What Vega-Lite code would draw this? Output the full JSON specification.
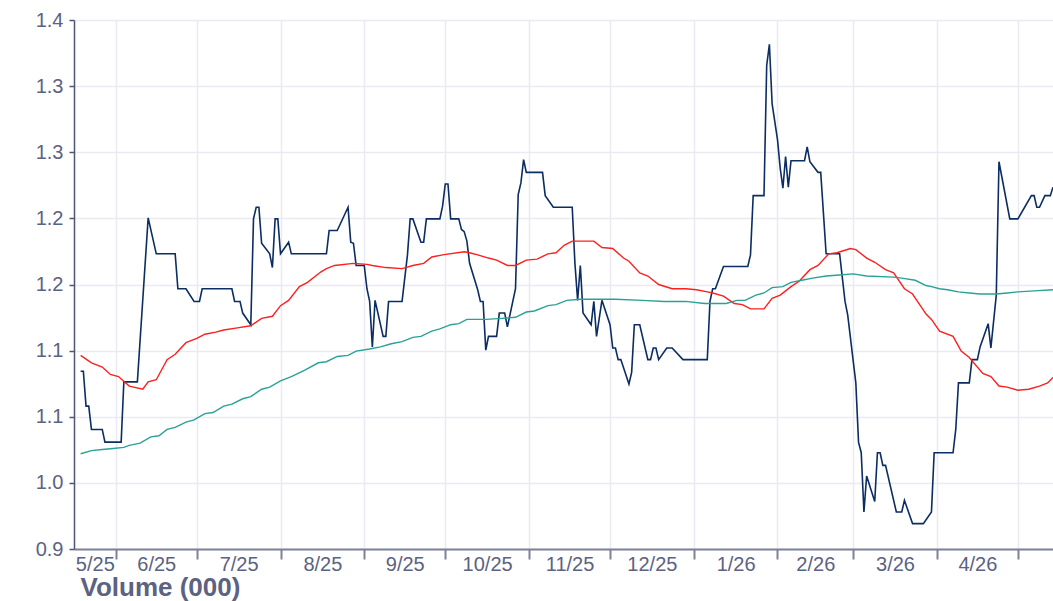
{
  "$schema": "https://vega.github.io/schema/vega-lite/v6.json",
  "width": 979,
  "height": 529,
  "autosize": {"type": "none"},
  "padding": {"left": 74, "top": 20, "right": 0, "bottom": 52},
  "background": "white",
  "config": {
    "view": {"stroke": null},
    "axis": {"labelFont": "Liberation Sans", "labelFontSize": 20, "labelColor": "#5b6282", "titleFont": "Liberation Sans", "gridColor": "#eaebf2", "gridWidth": 1.5}
  },
  "data": {"values": [
    {"d":"2025-05-19","s":"Price","v":1.068},{"d":"2025-05-20","s":"Price","v":1.068},{"d":"2025-05-21","s":"Price","v":1.035},{"d":"2025-05-22","s":"Price","v":1.035},
    {"d":"2025-05-23","s":"Price","v":1.013},{"d":"2025-05-27","s":"Price","v":1.013},{"d":"2025-05-28","s":"Price","v":1.001},{"d":"2025-06-03","s":"Price","v":1.001},
    {"d":"2025-06-04","s":"Price","v":1.058},{"d":"2025-06-09","s":"Price","v":1.058},{"d":"2025-06-13","s":"Price","v":1.213},{"d":"2025-06-16","s":"Price","v":1.179},
    {"d":"2025-06-23","s":"Price","v":1.179},{"d":"2025-06-24","s":"Price","v":1.146},{"d":"2025-06-27","s":"Price","v":1.146},{"d":"2025-06-30","s":"Price","v":1.134},
    {"d":"2025-07-02","s":"Price","v":1.134},{"d":"2025-07-03","s":"Price","v":1.146},{"d":"2025-07-14","s":"Price","v":1.146},{"d":"2025-07-15","s":"Price","v":1.134},
    {"d":"2025-07-17","s":"Price","v":1.134},{"d":"2025-07-18","s":"Price","v":1.123},{"d":"2025-07-21","s":"Price","v":1.112},{"d":"2025-07-22","s":"Price","v":1.212},
    {"d":"2025-07-23","s":"Price","v":1.223},{"d":"2025-07-24","s":"Price","v":1.223},{"d":"2025-07-25","s":"Price","v":1.189},{"d":"2025-07-28","s":"Price","v":1.179},
    {"d":"2025-07-29","s":"Price","v":1.166},{"d":"2025-07-30","s":"Price","v":1.212},{"d":"2025-07-31","s":"Price","v":1.212},{"d":"2025-08-01","s":"Price","v":1.179},
    {"d":"2025-08-04","s":"Price","v":1.190},{"d":"2025-08-05","s":"Price","v":1.179},{"d":"2025-08-18","s":"Price","v":1.179},{"d":"2025-08-19","s":"Price","v":1.201},
    {"d":"2025-08-22","s":"Price","v":1.201},{"d":"2025-08-26","s":"Price","v":1.223},{"d":"2025-08-27","s":"Price","v":1.190},{"d":"2025-08-28","s":"Price","v":1.189},
    {"d":"2025-08-29","s":"Price","v":1.168},{"d":"2025-09-01","s":"Price","v":1.168},{"d":"2025-09-02","s":"Price","v":1.146},{"d":"2025-09-03","s":"Price","v":1.134},
    {"d":"2025-09-04","s":"Price","v":1.091},{"d":"2025-09-05","s":"Price","v":1.135},{"d":"2025-09-08","s":"Price","v":1.101},{"d":"2025-09-09","s":"Price","v":1.101},
    {"d":"2025-09-10","s":"Price","v":1.134},{"d":"2025-09-15","s":"Price","v":1.134},{"d":"2025-09-17","s":"Price","v":1.178},{"d":"2025-09-18","s":"Price","v":1.212},
    {"d":"2025-09-19","s":"Price","v":1.212},{"d":"2025-09-22","s":"Price","v":1.190},{"d":"2025-09-23","s":"Price","v":1.190},{"d":"2025-09-24","s":"Price","v":1.212},
    {"d":"2025-09-29","s":"Price","v":1.212},{"d":"2025-09-30","s":"Price","v":1.224},{"d":"2025-10-01","s":"Price","v":1.245},{"d":"2025-10-02","s":"Price","v":1.245},
    {"d":"2025-10-03","s":"Price","v":1.212},{"d":"2025-10-06","s":"Price","v":1.212},{"d":"2025-10-07","s":"Price","v":1.202},{"d":"2025-10-08","s":"Price","v":1.200},
    {"d":"2025-10-09","s":"Price","v":1.191},{"d":"2025-10-10","s":"Price","v":1.170},{"d":"2025-10-13","s":"Price","v":1.145},{"d":"2025-10-14","s":"Price","v":1.134},
    {"d":"2025-10-15","s":"Price","v":1.134},{"d":"2025-10-16","s":"Price","v":1.088},{"d":"2025-10-17","s":"Price","v":1.101},{"d":"2025-10-20","s":"Price","v":1.101},
    {"d":"2025-10-21","s":"Price","v":1.123},{"d":"2025-10-23","s":"Price","v":1.123},{"d":"2025-10-24","s":"Price","v":1.110},{"d":"2025-10-27","s":"Price","v":1.146},
    {"d":"2025-10-28","s":"Price","v":1.235},{"d":"2025-10-29","s":"Price","v":1.246},{"d":"2025-10-30","s":"Price","v":1.268},{"d":"2025-10-31","s":"Price","v":1.256},
    {"d":"2025-11-06","s":"Price","v":1.256},{"d":"2025-11-07","s":"Price","v":1.234},{"d":"2025-11-10","s":"Price","v":1.223},{"d":"2025-11-17","s":"Price","v":1.223},
    {"d":"2025-11-18","s":"Price","v":1.170},{"d":"2025-11-19","s":"Price","v":1.135},{"d":"2025-11-20","s":"Price","v":1.168},{"d":"2025-11-21","s":"Price","v":1.123},
    {"d":"2025-11-24","s":"Price","v":1.112},{"d":"2025-11-25","s":"Price","v":1.134},{"d":"2025-11-26","s":"Price","v":1.101},{"d":"2025-11-28","s":"Price","v":1.135},
    {"d":"2025-12-01","s":"Price","v":1.112},{"d":"2025-12-02","s":"Price","v":1.090},{"d":"2025-12-03","s":"Price","v":1.090},{"d":"2025-12-04","s":"Price","v":1.079},
    {"d":"2025-12-05","s":"Price","v":1.079},{"d":"2025-12-08","s":"Price","v":1.056},{"d":"2025-12-09","s":"Price","v":1.067},{"d":"2025-12-10","s":"Price","v":1.112},
    {"d":"2025-12-12","s":"Price","v":1.112},{"d":"2025-12-15","s":"Price","v":1.079},{"d":"2025-12-16","s":"Price","v":1.079},{"d":"2025-12-17","s":"Price","v":1.090},
    {"d":"2025-12-18","s":"Price","v":1.090},{"d":"2025-12-19","s":"Price","v":1.079},{"d":"2025-12-22","s":"Price","v":1.090},{"d":"2025-12-24","s":"Price","v":1.090},
    {"d":"2025-12-28","s":"Price","v":1.079},{"d":"2026-01-06","s":"Price","v":1.079},{"d":"2026-01-07","s":"Price","v":1.134},{"d":"2026-01-08","s":"Price","v":1.146},
    {"d":"2026-01-09","s":"Price","v":1.146},{"d":"2026-01-12","s":"Price","v":1.167},{"d":"2026-01-21","s":"Price","v":1.167},{"d":"2026-01-22","s":"Price","v":1.178},
    {"d":"2026-01-23","s":"Price","v":1.234},{"d":"2026-01-27","s":"Price","v":1.234},{"d":"2026-01-28","s":"Price","v":1.357},{"d":"2026-01-29","s":"Price","v":1.377},
    {"d":"2026-01-30","s":"Price","v":1.321},{"d":"2026-02-01","s":"Price","v":1.287},{"d":"2026-02-02","s":"Price","v":1.260},{"d":"2026-02-03","s":"Price","v":1.241},
    {"d":"2026-02-04","s":"Price","v":1.271},{"d":"2026-02-05","s":"Price","v":1.242},{"d":"2026-02-06","s":"Price","v":1.267},{"d":"2026-02-11","s":"Price","v":1.267},
    {"d":"2026-02-12","s":"Price","v":1.280},{"d":"2026-02-13","s":"Price","v":1.266},{"d":"2026-02-16","s":"Price","v":1.256},{"d":"2026-02-17","s":"Price","v":1.256},
    {"d":"2026-02-19","s":"Price","v":1.179},{"d":"2026-02-24","s":"Price","v":1.179},{"d":"2026-02-26","s":"Price","v":1.134},{"d":"2026-02-27","s":"Price","v":1.121},
    {"d":"2026-03-02","s":"Price","v":1.057},{"d":"2026-03-03","s":"Price","v":1.001},{"d":"2026-03-04","s":"Price","v":0.991},{"d":"2026-03-05","s":"Price","v":0.935},
    {"d":"2026-03-06","s":"Price","v":0.969},{"d":"2026-03-09","s":"Price","v":0.945},{"d":"2026-03-10","s":"Price","v":0.991},{"d":"2026-03-11","s":"Price","v":0.991},
    {"d":"2026-03-12","s":"Price","v":0.979},{"d":"2026-03-13","s":"Price","v":0.979},{"d":"2026-03-17","s":"Price","v":0.935},{"d":"2026-03-19","s":"Price","v":0.935},
    {"d":"2026-03-20","s":"Price","v":0.946},{"d":"2026-03-23","s":"Price","v":0.924},{"d":"2026-03-27","s":"Price","v":0.924},{"d":"2026-03-30","s":"Price","v":0.935},
    {"d":"2026-03-31","s":"Price","v":0.991},{"d":"2026-04-07","s":"Price","v":0.991},{"d":"2026-04-08","s":"Price","v":1.013},{"d":"2026-04-09","s":"Price","v":1.057},
    {"d":"2026-04-13","s":"Price","v":1.057},{"d":"2026-04-14","s":"Price","v":1.079},{"d":"2026-04-16","s":"Price","v":1.079},{"d":"2026-04-17","s":"Price","v":1.091},
    {"d":"2026-04-20","s":"Price","v":1.113},{"d":"2026-04-21","s":"Price","v":1.090},{"d":"2026-04-23","s":"Price","v":1.140},{"d":"2026-04-24","s":"Price","v":1.266},
    {"d":"2026-04-28","s":"Price","v":1.212},{"d":"2026-05-01","s":"Price","v":1.212},{"d":"2026-05-06","s":"Price","v":1.234},{"d":"2026-05-07","s":"Price","v":1.234},
    {"d":"2026-05-08","s":"Price","v":1.223},{"d":"2026-05-09","s":"Price","v":1.223},{"d":"2026-05-11","s":"Price","v":1.234},{"d":"2026-05-13","s":"Price","v":1.234},
    {"d":"2026-05-14","s":"Price","v":1.242},

    {"d":"2025-05-19","s":"MA50","v":1.083},{"d":"2025-05-23","s":"MA50","v":1.076},{"d":"2025-05-27","s":"MA50","v":1.072},{"d":"2025-05-30","s":"MA50","v":1.065},
    {"d":"2025-06-02","s":"MA50","v":1.063},{"d":"2025-06-06","s":"MA50","v":1.054},{"d":"2025-06-11","s":"MA50","v":1.051},{"d":"2025-06-13","s":"MA50","v":1.058},
    {"d":"2025-06-16","s":"MA50","v":1.060},{"d":"2025-06-20","s":"MA50","v":1.079},{"d":"2025-06-23","s":"MA50","v":1.084},{"d":"2025-06-27","s":"MA50","v":1.095},
    {"d":"2025-07-01","s":"MA50","v":1.099},{"d":"2025-07-04","s":"MA50","v":1.103},{"d":"2025-07-08","s":"MA50","v":1.105},{"d":"2025-07-11","s":"MA50","v":1.107},
    {"d":"2025-07-16","s":"MA50","v":1.109},{"d":"2025-07-21","s":"MA50","v":1.111},{"d":"2025-07-25","s":"MA50","v":1.118},{"d":"2025-07-29","s":"MA50","v":1.120},
    {"d":"2025-08-01","s":"MA50","v":1.130},{"d":"2025-08-04","s":"MA50","v":1.135},{"d":"2025-08-08","s":"MA50","v":1.148},{"d":"2025-08-11","s":"MA50","v":1.152},
    {"d":"2025-08-16","s":"MA50","v":1.162},{"d":"2025-08-18","s":"MA50","v":1.165},{"d":"2025-08-21","s":"MA50","v":1.168},{"d":"2025-08-28","s":"MA50","v":1.170},
    {"d":"2025-09-02","s":"MA50","v":1.169},{"d":"2025-09-04","s":"MA50","v":1.168},{"d":"2025-09-09","s":"MA50","v":1.166},{"d":"2025-09-15","s":"MA50","v":1.165},
    {"d":"2025-09-19","s":"MA50","v":1.168},{"d":"2025-09-23","s":"MA50","v":1.170},{"d":"2025-09-26","s":"MA50","v":1.176},{"d":"2025-09-30","s":"MA50","v":1.178},
    {"d":"2025-10-08","s":"MA50","v":1.181},{"d":"2025-10-10","s":"MA50","v":1.180},{"d":"2025-10-13","s":"MA50","v":1.178},{"d":"2025-10-17","s":"MA50","v":1.175},
    {"d":"2025-10-20","s":"MA50","v":1.173},{"d":"2025-10-24","s":"MA50","v":1.168},{"d":"2025-10-27","s":"MA50","v":1.168},{"d":"2025-10-31","s":"MA50","v":1.173},
    {"d":"2025-11-04","s":"MA50","v":1.174},{"d":"2025-11-08","s":"MA50","v":1.179},{"d":"2025-11-11","s":"MA50","v":1.180},{"d":"2025-11-14","s":"MA50","v":1.187},
    {"d":"2025-11-17","s":"MA50","v":1.191},{"d":"2025-11-20","s":"MA50","v":1.191},{"d":"2025-11-25","s":"MA50","v":1.191},{"d":"2025-11-28","s":"MA50","v":1.185},
    {"d":"2025-12-02","s":"MA50","v":1.184},{"d":"2025-12-06","s":"MA50","v":1.175},{"d":"2025-12-08","s":"MA50","v":1.172},{"d":"2025-12-12","s":"MA50","v":1.161},
    {"d":"2025-12-15","s":"MA50","v":1.158},{"d":"2025-12-19","s":"MA50","v":1.150},{"d":"2025-12-24","s":"MA50","v":1.146},{"d":"2025-12-29","s":"MA50","v":1.146},
    {"d":"2026-01-02","s":"MA50","v":1.145},{"d":"2026-01-06","s":"MA50","v":1.143},{"d":"2026-01-08","s":"MA50","v":1.142},{"d":"2026-01-12","s":"MA50","v":1.139},
    {"d":"2026-01-16","s":"MA50","v":1.132},{"d":"2026-01-19","s":"MA50","v":1.131},{"d":"2026-01-22","s":"MA50","v":1.127},{"d":"2026-01-27","s":"MA50","v":1.127},
    {"d":"2026-01-30","s":"MA50","v":1.137},{"d":"2026-02-02","s":"MA50","v":1.140},{"d":"2026-02-06","s":"MA50","v":1.148},{"d":"2026-02-09","s":"MA50","v":1.153},
    {"d":"2026-02-13","s":"MA50","v":1.164},{"d":"2026-02-16","s":"MA50","v":1.168},{"d":"2026-02-20","s":"MA50","v":1.179},{"d":"2026-02-23","s":"MA50","v":1.180},
    {"d":"2026-02-28","s":"MA50","v":1.184},{"d":"2026-03-02","s":"MA50","v":1.183},{"d":"2026-03-06","s":"MA50","v":1.175},{"d":"2026-03-09","s":"MA50","v":1.171},
    {"d":"2026-03-13","s":"MA50","v":1.164},{"d":"2026-03-16","s":"MA50","v":1.161},{"d":"2026-03-20","s":"MA50","v":1.146},{"d":"2026-03-23","s":"MA50","v":1.141},
    {"d":"2026-03-28","s":"MA50","v":1.122},{"d":"2026-03-30","s":"MA50","v":1.117},{"d":"2026-04-02","s":"MA50","v":1.106},{"d":"2026-04-07","s":"MA50","v":1.101},
    {"d":"2026-04-10","s":"MA50","v":1.087},{"d":"2026-04-13","s":"MA50","v":1.081},{"d":"2026-04-18","s":"MA50","v":1.066},{"d":"2026-04-21","s":"MA50","v":1.063},
    {"d":"2026-04-24","s":"MA50","v":1.054},{"d":"2026-04-27","s":"MA50","v":1.053},{"d":"2026-05-01","s":"MA50","v":1.050},{"d":"2026-05-05","s":"MA50","v":1.051},
    {"d":"2026-05-09","s":"MA50","v":1.054},{"d":"2026-05-12","s":"MA50","v":1.057},{"d":"2026-05-14","s":"MA50","v":1.062},

    {"d":"2025-05-19","s":"MA200","v":0.990},{"d":"2025-05-23","s":"MA200","v":0.993},{"d":"2025-05-27","s":"MA200","v":0.994},{"d":"2025-05-31","s":"MA200","v":0.995},
    {"d":"2025-06-04","s":"MA200","v":0.996},{"d":"2025-06-06","s":"MA200","v":0.998},{"d":"2025-06-10","s":"MA200","v":1.000},{"d":"2025-06-14","s":"MA200","v":1.006},
    {"d":"2025-06-17","s":"MA200","v":1.007},{"d":"2025-06-20","s":"MA200","v":1.013},{"d":"2025-06-23","s":"MA200","v":1.015},{"d":"2025-06-27","s":"MA200","v":1.020},
    {"d":"2025-06-30","s":"MA200","v":1.022},{"d":"2025-07-04","s":"MA200","v":1.028},{"d":"2025-07-07","s":"MA200","v":1.029},{"d":"2025-07-11","s":"MA200","v":1.035},
    {"d":"2025-07-14","s":"MA200","v":1.037},{"d":"2025-07-18","s":"MA200","v":1.042},{"d":"2025-07-21","s":"MA200","v":1.044},{"d":"2025-07-25","s":"MA200","v":1.051},
    {"d":"2025-07-28","s":"MA200","v":1.053},{"d":"2025-08-01","s":"MA200","v":1.059},{"d":"2025-08-05","s":"MA200","v":1.063},{"d":"2025-08-10","s":"MA200","v":1.069},
    {"d":"2025-08-15","s":"MA200","v":1.076},{"d":"2025-08-18","s":"MA200","v":1.077},{"d":"2025-08-22","s":"MA200","v":1.082},{"d":"2025-08-26","s":"MA200","v":1.083},
    {"d":"2025-08-29","s":"MA200","v":1.087},{"d":"2025-09-03","s":"MA200","v":1.089},{"d":"2025-09-07","s":"MA200","v":1.091},{"d":"2025-09-11","s":"MA200","v":1.094},
    {"d":"2025-09-15","s":"MA200","v":1.096},{"d":"2025-09-19","s":"MA200","v":1.100},{"d":"2025-09-22","s":"MA200","v":1.101},{"d":"2025-09-26","s":"MA200","v":1.106},
    {"d":"2025-09-29","s":"MA200","v":1.108},{"d":"2025-10-03","s":"MA200","v":1.112},{"d":"2025-10-06","s":"MA200","v":1.113},{"d":"2025-10-09","s":"MA200","v":1.117},
    {"d":"2025-10-16","s":"MA200","v":1.117},{"d":"2025-10-22","s":"MA200","v":1.118},{"d":"2025-10-27","s":"MA200","v":1.119},{"d":"2025-10-31","s":"MA200","v":1.124},
    {"d":"2025-11-03","s":"MA200","v":1.125},{"d":"2025-11-08","s":"MA200","v":1.130},{"d":"2025-11-11","s":"MA200","v":1.131},{"d":"2025-11-15","s":"MA200","v":1.135},
    {"d":"2025-11-20","s":"MA200","v":1.136},{"d":"2025-11-28","s":"MA200","v":1.136},{"d":"2025-12-03","s":"MA200","v":1.136},{"d":"2025-12-13","s":"MA200","v":1.135},
    {"d":"2025-12-21","s":"MA200","v":1.134},{"d":"2025-12-29","s":"MA200","v":1.134},{"d":"2026-01-05","s":"MA200","v":1.132},{"d":"2026-01-09","s":"MA200","v":1.132},
    {"d":"2026-01-13","s":"MA200","v":1.132},{"d":"2026-01-17","s":"MA200","v":1.135},{"d":"2026-01-20","s":"MA200","v":1.135},{"d":"2026-01-24","s":"MA200","v":1.140},
    {"d":"2026-01-27","s":"MA200","v":1.142},{"d":"2026-01-30","s":"MA200","v":1.147},{"d":"2026-02-03","s":"MA200","v":1.148},{"d":"2026-02-06","s":"MA200","v":1.152},
    {"d":"2026-02-10","s":"MA200","v":1.154},{"d":"2026-02-14","s":"MA200","v":1.156},{"d":"2026-02-19","s":"MA200","v":1.158},{"d":"2026-02-24","s":"MA200","v":1.159},
    {"d":"2026-03-01","s":"MA200","v":1.160},{"d":"2026-03-06","s":"MA200","v":1.158},{"d":"2026-03-16","s":"MA200","v":1.157},{"d":"2026-03-19","s":"MA200","v":1.156},
    {"d":"2026-03-24","s":"MA200","v":1.154},{"d":"2026-03-28","s":"MA200","v":1.149},{"d":"2026-03-30","s":"MA200","v":1.148},{"d":"2026-04-02","s":"MA200","v":1.146},
    {"d":"2026-04-05","s":"MA200","v":1.145},{"d":"2026-04-09","s":"MA200","v":1.143},{"d":"2026-04-13","s":"MA200","v":1.142},{"d":"2026-04-17","s":"MA200","v":1.141},
    {"d":"2026-04-23","s":"MA200","v":1.141},{"d":"2026-04-27","s":"MA200","v":1.142},{"d":"2026-05-01","s":"MA200","v":1.143},{"d":"2026-05-07","s":"MA200","v":1.144},
    {"d":"2026-05-14","s":"MA200","v":1.145}
  ]},
  "layer": [
    {
      "transform": [{"filter": "datum.s === 'Price'"}],
      "mark": {"type": "line", "strokeWidth": 1.6, "clip": true},
      "encoding": {
        "x": {"field": "d", "type": "temporal",
          "scale": {"type": "utc", "domain": [{"year": 2025, "month": 5, "date": 16, "hours": 13, "utc": true}, {"year": 2026, "month": 5, "date": 14, "utc": true}]},
          "axis": {"orient": "bottom", "title": null, "labels": false, "grid": true, "ticks": true, "tickSize": 10, "tickWidth": 2, "tickColor": "#7d8298", "domainColor": "#7d8298", "domainWidth": 2,
            "values": [
              {"year": 2025, "month": 6, "date": 1, "utc": true}, {"year": 2025, "month": 7, "date": 1, "utc": true}, {"year": 2025, "month": 8, "date": 1, "utc": true},
              {"year": 2025, "month": 9, "date": 1, "utc": true}, {"year": 2025, "month": 10, "date": 1, "utc": true}, {"year": 2025, "month": 11, "date": 1, "utc": true},
              {"year": 2025, "month": 12, "date": 1, "utc": true}, {"year": 2026, "month": 1, "date": 1, "utc": true}, {"year": 2026, "month": 2, "date": 1, "utc": true},
              {"year": 2026, "month": 3, "date": 1, "utc": true}, {"year": 2026, "month": 4, "date": 1, "utc": true}, {"year": 2026, "month": 5, "date": 1, "utc": true}
            ]}},
        "y": {"field": "v", "type": "quantitative",
          "scale": {"domain": [0.9, 1.4], "nice": false, "zero": false},
          "axis": {"title": null, "grid": true, "values": [0.9, 0.9625, 1.025, 1.0875, 1.15, 1.2125, 1.275, 1.3375, 1.4],
            "labelExpr": "['0.9','1.0','1.1','1.1','1.2','1.2','1.3','1.3','1.4'][round((datum.value-0.9)/0.0625)]",
            "domainColor": "#4f5673", "domainWidth": 1.5, "tickColor": "#4f5673", "tickWidth": 1.5, "tickSize": 5, "labelPadding": 6}},
        "color": {"field": "s", "type": "nominal", "legend": null,
          "scale": {"domain": ["Price", "MA50", "MA200"], "range": ["#0b2d63", "#ff1f1f", "#2aa196"]}}
      }
    },
    {
      "transform": [{"filter": "datum.s !== 'Price'"}],
      "mark": {"type": "line", "strokeWidth": 1.4, "clip": true},
      "encoding": {
        "x": {"field": "d", "type": "temporal",
          "scale": {"type": "utc", "domain": [{"year": 2025, "month": 5, "date": 16, "hours": 13, "utc": true}, {"year": 2026, "month": 5, "date": 14, "utc": true}]},
          "axis": {"orient": "bottom", "grid": false, "ticks": false, "tickSize": 0, "domain": false, "format": "%-m/%y", "labelPadding": 5, "labelOverlap": false, "labelFlush": false,
            "title": "Volume (000)", "titleFontSize": 26, "titleFontWeight": "bold", "titleColor": "#5b6282", "titleAnchor": "start", "titleAlign": "left", "titleBaseline": "alphabetic", "titleX": 6, "titleY": 46,
            "values": [
              {"year": 2025, "month": 5, "date": 24, "hours": 6, "utc": true}, {"year": 2025, "month": 6, "date": 16, "utc": true}, {"year": 2025, "month": 7, "date": 16, "hours": 12, "utc": true},
              {"year": 2025, "month": 8, "date": 16, "hours": 12, "utc": true}, {"year": 2025, "month": 9, "date": 16, "utc": true}, {"year": 2025, "month": 10, "date": 16, "hours": 12, "utc": true},
              {"year": 2025, "month": 11, "date": 16, "utc": true}, {"year": 2025, "month": 12, "date": 16, "hours": 12, "utc": true}, {"year": 2026, "month": 1, "date": 16, "hours": 12, "utc": true},
              {"year": 2026, "month": 2, "date": 15, "utc": true}, {"year": 2026, "month": 3, "date": 16, "hours": 12, "utc": true}, {"year": 2026, "month": 4, "date": 16, "utc": true}
            ]}},
        "y": {"field": "v", "type": "quantitative",
          "scale": {"domain": [0.9, 1.4], "nice": false, "zero": false},
          "axis": {"title": null, "grid": true, "values": [0.9, 0.9625, 1.025, 1.0875, 1.15, 1.2125, 1.275, 1.3375, 1.4],
            "labelExpr": "['0.9','1.0','1.1','1.1','1.2','1.2','1.3','1.3','1.4'][round((datum.value-0.9)/0.0625)]",
            "domainColor": "#4f5673", "domainWidth": 1.5, "tickColor": "#4f5673", "tickWidth": 1.5, "tickSize": 5, "labelPadding": 6}},
        "color": {"field": "s", "type": "nominal", "legend": null,
          "scale": {"domain": ["Price", "MA50", "MA200"], "range": ["#0b2d63", "#ff1f1f", "#2aa196"]}}
      }
    }
  ],
  "resolve": {"axis": {"x": "independent"}}
}
